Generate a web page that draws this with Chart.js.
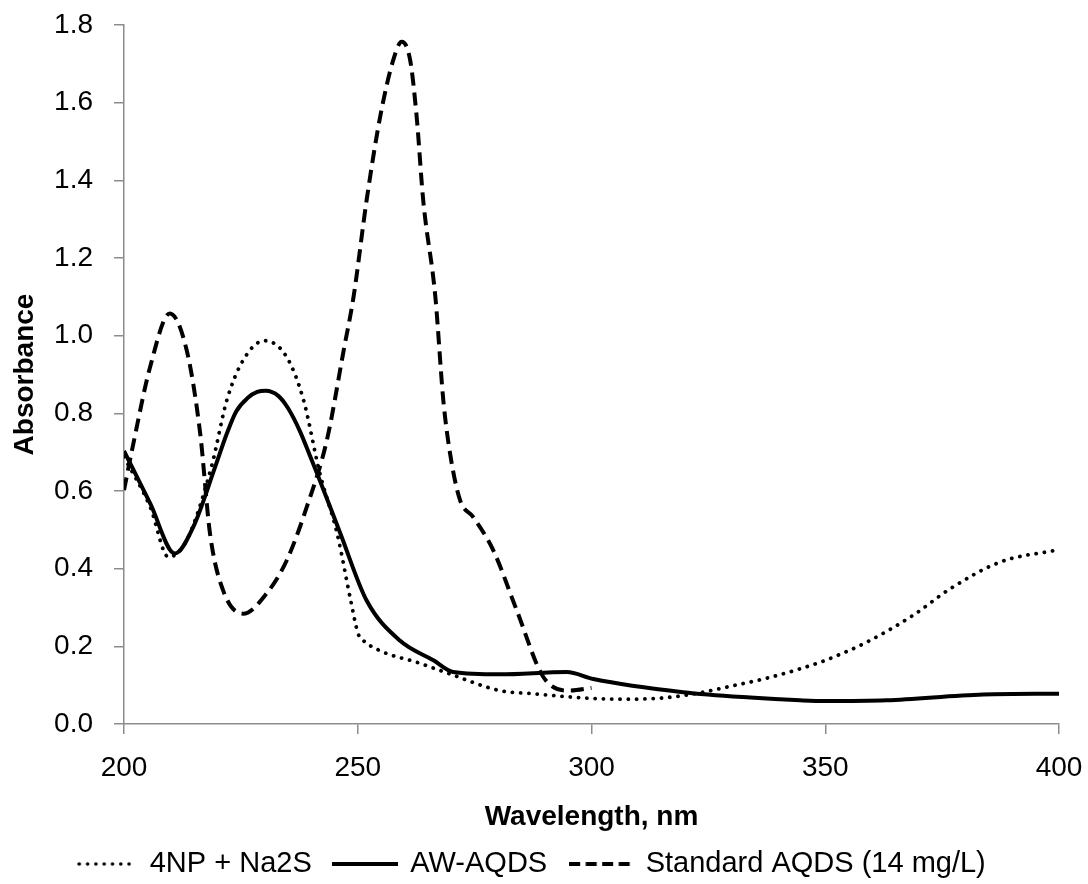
<!DOCTYPE html>
<html>
<head>
<meta charset="utf-8">
<script src="https://cdn.jsdelivr.net/npm/chart.js@4/dist/chart.umd.min.js"></script>
<style>
  html, body { margin: 0; padding: 0; background: #fff; }
  #wrap { width: 1088px; height: 884px; }
</style>
</head>
<body>
<div id="wrap"><canvas id="absChart" width="1088" height="884"></canvas></div>
<script>
// Values (wavelength in nm, absorbance)
const npWavelength = [200, 205.6, 209.5, 213.4, 218.7, 222, 225.5, 230, 234.8, 238.4, 241.9, 245.6, 248.5, 250.1, 251.2, 255.5, 262.6, 269.7, 280.4, 287.5, 295, 301.8, 309, 316, 323, 330.4, 337.5, 344.6, 350, 358.9, 368.8, 376.7, 387.4, 400];
const npAbsorbance = [0.688, 0.559, 0.43, 0.473, 0.662, 0.834, 0.937, 0.987, 0.945, 0.834, 0.645, 0.49, 0.318, 0.232, 0.215, 0.185, 0.159, 0.129, 0.086, 0.078, 0.07, 0.065, 0.064, 0.068, 0.08, 0.099, 0.118, 0.142, 0.164, 0.211, 0.28, 0.348, 0.417, 0.449];

const awWavelength = [200, 205.6, 210.9, 214.8, 219.5, 222, 224, 226.5, 228.5, 230.3, 233, 235, 237.6, 239.8, 241.6, 246.3, 251.9, 259, 266.2, 270.4, 280.4, 294.7, 300.4, 319.6, 334, 344.6, 350, 363.1, 383.8, 400];
const awAbsorbance = [0.703, 0.568, 0.439, 0.507, 0.662, 0.748, 0.805, 0.84, 0.855, 0.858, 0.845, 0.815, 0.755, 0.69, 0.636, 0.49, 0.318, 0.215, 0.164, 0.134, 0.128, 0.134, 0.116, 0.082, 0.068, 0.061, 0.059, 0.061, 0.076, 0.078];

const stdWavelength = [200, 202, 205.6, 209.8, 213.4, 216.3, 218.4, 221.2, 225.5, 230.5, 234.8, 239.1, 243.4, 247, 249.1, 251.9, 254.8, 257.6, 259.4, 261.2, 262.6, 264, 266.6, 268.3, 269.7, 271.9, 274.7, 279, 284, 289.7, 295.4, 300];
const stdAbsorbance = [0.602, 0.722, 0.92, 1.057, 0.963, 0.748, 0.49, 0.344, 0.284, 0.336, 0.421, 0.559, 0.731, 0.963, 1.1, 1.349, 1.564, 1.71, 1.757, 1.71, 1.564, 1.349, 1.1, 0.834, 0.7, 0.576, 0.533, 0.447, 0.293, 0.121, 0.086, 0.093];

const seriesNames = ['4NP + Na2S', 'AW-AQDS', 'Standard AQDS (14 mg/L)'];
const xTicks = [200, 250, 300, 350, 400];
const yTicks = [0, 0.2, 0.4, 0.6, 0.8, 1.0, 1.2, 1.4, 1.6, 1.8];

const toPoints = (xs, ys) => xs.map((x, i) => ({ x: x, y: ys[i] }));

const FONT = '"Liberation Sans", Arial, sans-serif';
const AXIS_GRAY = '#8c8c8c';

// small line samples for the legend (dash is not applied to legend point styles)
function lineSample(w, lw, dash, cap) {
    const c = document.createElement('canvas');
    c.width = w;
    c.height = 10;
    const g = c.getContext('2d');
    g.strokeStyle = '#000';
    g.lineWidth = lw;
    g.lineCap = cap || 'butt';
    g.setLineDash(dash);
    g.beginPath();
    g.moveTo(cap === 'round' ? 2 : 0, 5);
    g.lineTo(w, 5);
    g.stroke();
    return c;
}
const legendSamples = [
    lineSample(54, 3.5, [0.1, 8.2], 'round'),
    lineSample(66, 4, []),
    lineSample(62, 4, [11, 5.5])
];

const ctx = document.getElementById('absChart').getContext('2d');
new Chart(ctx, {
    type: 'line',
    data: {
        datasets: [
            {
                label: seriesNames[0],
                data: toPoints(npWavelength, npAbsorbance),
                borderColor: '#000',
                backgroundColor: '#000',
                borderWidth: 3.8,
                borderDash: [0.1, 8.2],
                borderCapStyle: 'round',
                cubicInterpolationMode: 'monotone',
                pointRadius: 0,
                fill: false
            },
            {
                label: seriesNames[1],
                data: toPoints(awWavelength, awAbsorbance),
                borderColor: '#000',
                backgroundColor: '#000',
                borderWidth: 4,
                cubicInterpolationMode: 'monotone',
                pointRadius: 0,
                fill: false
            },
            {
                label: seriesNames[2],
                data: toPoints(stdWavelength, stdAbsorbance),
                borderColor: '#000',
                backgroundColor: '#000',
                borderWidth: 4,
                borderDash: [13, 7],
                cubicInterpolationMode: 'monotone',
                pointRadius: 0,
                fill: false
            }
        ]
    },
    options: {
        responsive: false,
        animation: false,
        devicePixelRatio: 1,
        layout: {
            padding: { top: 25, right: 29, bottom: 0, left: 0 }
        },
        plugins: {
            tooltip: { enabled: false },
            legend: {
                position: 'bottom',
                maxHeight: 56.5,
                labels: {
                    color: '#000',
                    font: { family: FONT, size: 29 },
                    usePointStyle: true,
                    pointStyleWidth: 62,
                    padding: 22,
                    generateLabels: (chart) => {
                        const items = Chart.defaults.plugins.legend.labels.generateLabels(chart);
                        items.forEach((it, i) => { it.pointStyle = legendSamples[i]; });
                        return items;
                    }
                }
            }
        },
        scales: {
            x: {
                type: 'linear',
                min: 200,
                max: 400,
                afterBuildTicks: (scale) => { scale.ticks = xTicks.map(v => ({ value: v })); },
                afterFit: (scale) => {
                    scale.height = 103.5;
                    scale.paddingLeft = 0;
                    scale.paddingRight = 0;
                },
                ticks: {
                    color: '#000',
                    font: { family: FONT, size: 28 },
                    padding: 17,
                    maxRotation: 0
                },
                grid: {
                    drawOnChartArea: false,
                    drawTicks: true,
                    tickLength: 10,
                    color: AXIS_GRAY,
                    lineWidth: 1.5
                },
                border: { color: AXIS_GRAY, width: 1.5 },
                title: {
                    display: true,
                    text: 'Wavelength, nm',
                    color: '#000',
                    font: { family: FONT, size: 28, weight: 'bold', lineHeight: 1.0 },
                    padding: { top: 0, bottom: -4 }
                }
            },
            y: {
                min: 0,
                max: 1.8,
                afterBuildTicks: (scale) => { scale.ticks = yTicks.map(v => ({ value: v })); },
                afterFit: (scale) => {
                    scale.width = 124;
                    scale.paddingTop = 0;
                    scale.paddingBottom = 0;
                },
                ticks: {
                    color: '#000',
                    font: { family: FONT, size: 28 },
                    padding: 21,
                    callback: (v) => Number(v).toFixed(1)
                },
                grid: {
                    drawOnChartArea: false,
                    drawTicks: true,
                    tickLength: 10,
                    color: AXIS_GRAY,
                    lineWidth: 1.5
                },
                border: { color: AXIS_GRAY, width: 1.5 },
                title: {
                    display: true,
                    text: 'Absorbance',
                    color: '#000',
                    font: { family: FONT, size: 28, weight: 'bold' },
                    padding: { top: 8, bottom: 0 }
                }
            }
        }
    }
});
</script>
</body>
</html>
